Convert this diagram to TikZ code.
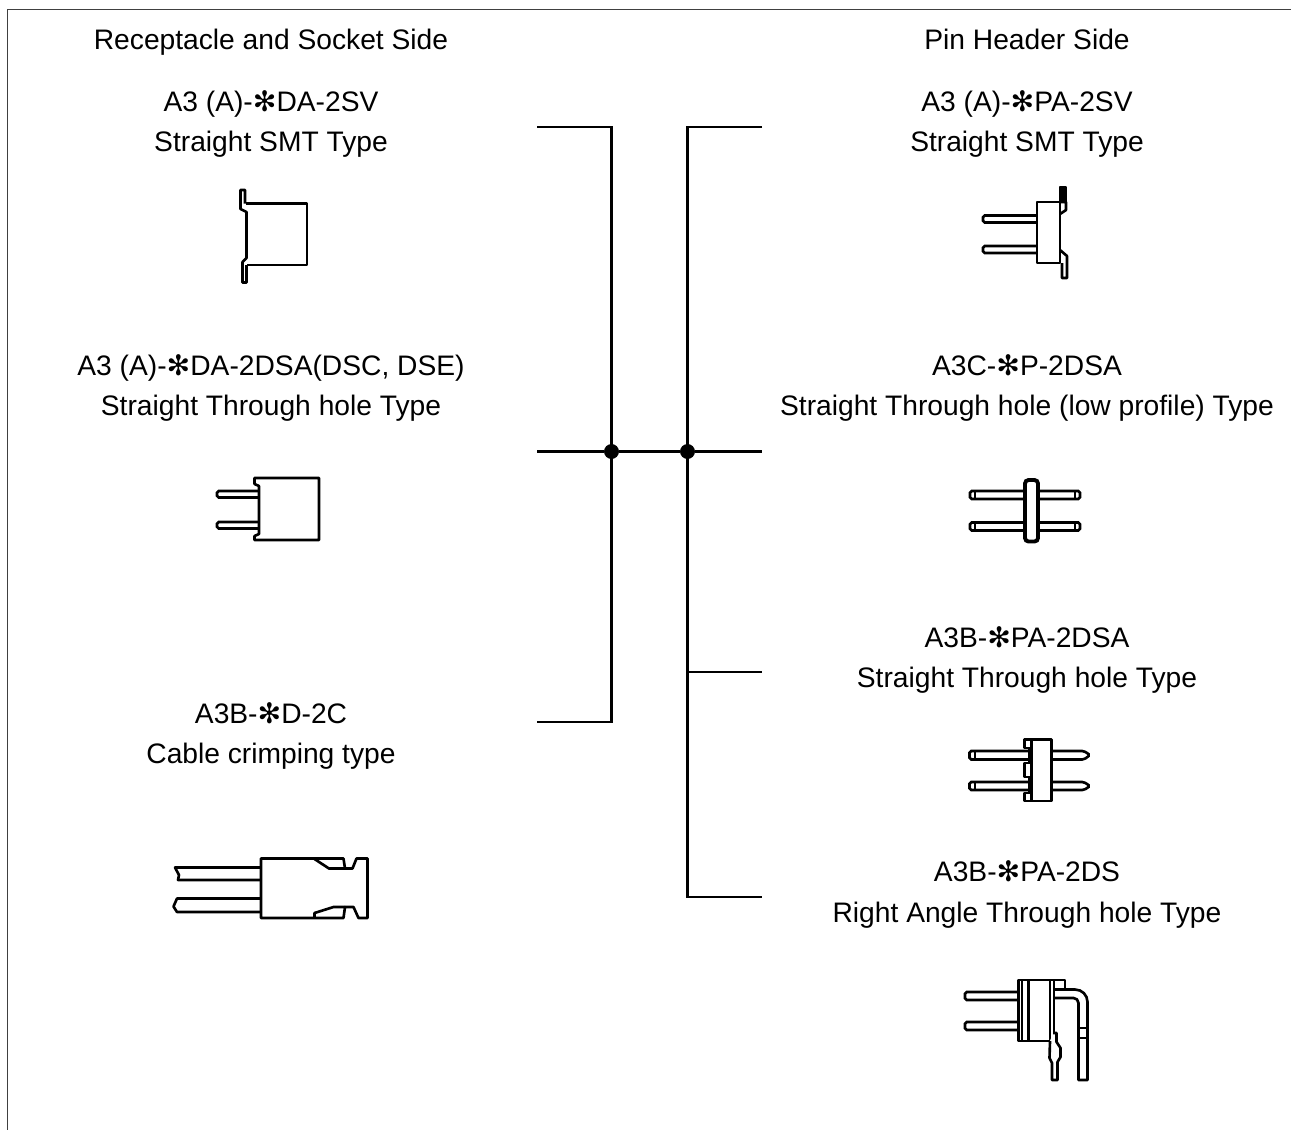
\documentclass[tikz,border=0pt]{standalone}
\usepackage{fontspec}
\setmainfont{Liberation Sans}
\newfontfamily\symfont{DejaVu Sans}
\usetikzlibrary{positioning}
\newcommand{\starmark}{{\symfont\char"273B}}
\tikzset{
  caption/.style={anchor=base,inner sep=0pt,font=\fontsize{16.05pt}{18pt}\selectfont},
  busline/.style={line width=1.6pt},
  partline/.style={line width=1.5pt,line join=round},
  pinline/.style={line width=1.5pt,rounded corners=1pt,fill=white},
  joint/.style={circle,fill=black,inner sep=0pt,minimum size=8.5pt}
}
\begin{document}
\begin{tikzpicture}[x=0.02cm,y=-0.02cm]
  \useasboundingbox (0,0) rectangle (1291,1130);
  % outer frame, open at right and bottom
  \coordinate (frameTR) at (1291,9.5);
  \coordinate (frameTL) at (7.5,9.5);
  \coordinate (frameBL) at (7.5,1130);
  \draw[line width=0.7pt,black!75] (frameTR) -- (frameTL) -- (frameBL);

  % texts, left column
  \node[caption] (sideLeft) at (271,49) {Receptacle and Socket Side};
  \node[caption] (nameLeftA) at (271,111) {A3 (A)-\starmark DA-2SV};
  \node[caption] (typeLeftA) at (271,151) {Straight SMT Type};
  \node[caption] (nameLeftB) at (271,375) {A3 (A)-\starmark DA-2DSA(DSC, DSE)};
  \node[caption] (typeLeftB) at (271,415) {Straight Through hole Type};
  \node[caption] (nameLeftC) at (271,723) {A3B-\starmark D-2C};
  \node[caption] (typeLeftC) at (271,763) {Cable crimping type};

  % texts, right column
  \node[caption] (sideRight) at (1027,49) {Pin Header Side};
  \node[caption] (nameRightA) at (1027,111) {A3 (A)-\starmark PA-2SV};
  \node[caption] (typeRightA) at (1027,151) {Straight SMT Type};
  \node[caption] (nameRightB) at (1027,375) {A3C-\starmark P-2DSA};
  \node[caption] (typeRightB) at (1027,415) {Straight Through hole (low profile) Type};
  \node[caption] (nameRightC) at (1027,647) {A3B-\starmark PA-2DSA};
  \node[caption] (typeRightC) at (1027,687) {Straight Through hole Type};
  \node[caption] (nameRightD) at (1027,881) {A3B-\starmark PA-2DS};
  \node[caption] (typeRightD) at (1027,922) {Right Angle Through hole Type};

  % bus lines
  \coordinate (leftA) at (537,127);
  \coordinate (leftB) at (537,451.5);
  \coordinate (leftC) at (537,722);
  \coordinate (rightA) at (762,127);
  \coordinate (rightB) at (762,451.5);
  \coordinate (rightC) at (762,672);
  \coordinate (rightD) at (762,897);
  \coordinate (busLeftTop) at (611.5,127);
  \coordinate (busLeftEnd) at (611.5,722);
  \coordinate (busRightTop) at (687.5,127);
  \coordinate (busRightFork) at (687.5,672);
  \coordinate (busRightEnd) at (687.5,897);
  \node[joint] (jointLeft) at (611.5,451.5) {};
  \node[joint] (jointRight) at (687.5,451.5) {};
  \draw[busline] (leftA) -- (busLeftTop) -- (busLeftEnd) -- (leftC);
  \draw[busline] (rightA) -- (busRightTop) -- (busRightEnd) -- (rightD);
  \draw[busline] (leftB) -- (jointLeft) -- (jointRight) -- (rightB);
  \draw[busline] (busRightFork) -- (rightC);

  % receptacle, SMT
  \draw[partline] (246,203.5) -- (307,203.5) -- (307,265) -- (246.5,265);
  \draw[partline] (245,203.5) -- (245,190) -- (240.5,190) -- (240.5,209) -- (246.5,212) -- (246.5,258)
    -- (242.5,262) -- (242.5,282.5) -- (246.5,282.5) -- (246.5,265);

  % receptacle, through hole
  \foreach \y in {491,522}
    \draw[pinline] (259,\y) -- (217,\y) -- (217,\y+6.5) -- (259,\y+6.5);
  \draw[partline] (254.5,478) -- (319,478) -- (319,540) -- (254.5,540) -- (254.5,536) -- (259,534)
    -- (259,486) -- (254.5,484) -- cycle;

  % receptacle, cable
  \draw[partline] (261,867.5) -- (175,867.5) -- (179,875) -- (178,880) -- (261,880);
  \draw[partline] (261,898.5) -- (177,898.5) -- (173.5,906.5) -- (177,912) -- (261,912);
  \draw[partline] (261,858.5) -- (343.5,858.5) -- (345,868.5) -- (352.5,868.5) -- (356.5,858.5) -- (367.5,858.5)
    -- (367.5,918) -- (358.5,918) -- (353.5,907) -- (345,907) -- (343.5,918) -- (261,918) -- cycle;
  \draw[partline] (314.5,859) -- (329,868.5) -- (345,868.5);
  \draw[partline] (314.5,918) -- (314.5,913) -- (333.5,907) -- (345,907);

  % header, SMT
  \foreach \y in {215.5,246}
    \draw[pinline] (1037,\y) -- (983,\y) -- (983,\y+7) -- (1037,\y+7);
  \draw[partline] (1037,202) rectangle (1060,263);
  \draw[partline,fill=black] (1060,187) -- (1066,187) -- (1066,202) -- (1060,202) -- cycle;
  \draw[partline] (1060,202) -- (1066,202) -- (1066,210) -- (1060,214);
  \draw[partline] (1060,250) -- (1067,256) -- (1067,278) -- (1062,278) -- (1062,263);

  % header, low profile
  \foreach \y in {491,522.5}
    \draw[pinline] (970,\y) rectangle (1080,\y+8);
  \foreach \y in {491,522.5} {
    \draw[partline] (975,\y) -- (975,\y+8);
    \draw[partline] (1075,\y) -- (1075,\y+8);
  }
  \draw[line width=2.2pt,fill=white,rounded corners=2pt] (1025,480) rectangle (1038,541.5);

  % header, through hole
  \draw[pinline] (969.5,751) -- (1084,751) -- (1090,755) -- (1084,759.5) -- (969.5,759.5) -- cycle;
  \draw[pinline] (969.5,782) -- (1084,782) -- (1090,786) -- (1084,790) -- (969.5,790) -- cycle;
  \draw[partline] (975,751) -- (975,759.5);
  \draw[partline] (975,782) -- (975,790);
  \draw[partline,fill=white] (1024.5,739.5) -- (1051.5,739.5) -- (1051.5,801) -- (1024.5,801) -- (1024.5,793)
    -- (1029.5,793) -- (1029.5,777) -- (1024.5,777) -- (1024.5,763) -- (1029.5,763) -- (1029.5,748) -- (1024.5,748) -- cycle;
  \draw[partline] (1031.5,739.5) -- (1031.5,801);

  % header, right angle
  \foreach \y in {992,1022}
    \draw[pinline] (1018,\y) -- (965,\y) -- (965,\y+8) -- (1018,\y+8);
  \draw[partline] (1054,980) -- (1065,980) -- (1065,989.5);
  \draw[partline] (1054,989.5) -- (1075,989.5) .. controls (1082,989.5) and (1087.5,995) .. (1087.5,1002) -- (1087.5,1080)
    -- (1078.5,1080) -- (1078.5,1003) .. controls (1078.5,1000) and (1076,998) .. (1073.5,998) -- (1054,998);
  \draw[partline] (1078.5,1028) -- (1087.5,1028);
  \draw[partline] (1078.5,1038) -- (1087.5,1038);
  \draw[partline] (1018.5,980) rectangle (1054,1041);
  \draw[partline] (1022,980) -- (1022,1041);
  \draw[partline] (1028.5,980) -- (1028.5,1041);
  \draw[partline] (1050,980) -- (1050,1041);
  \draw[partline,fill=white] (1050,1041) -- (1049.5,1058) -- (1052,1063) -- (1052,1080) -- (1057.5,1080) -- (1057.5,1062)
    -- (1060.5,1057) -- (1060.5,1048) -- (1056.5,1042) -- (1056.5,1033) -- (1053,1033);
\end{tikzpicture}
\end{document}
